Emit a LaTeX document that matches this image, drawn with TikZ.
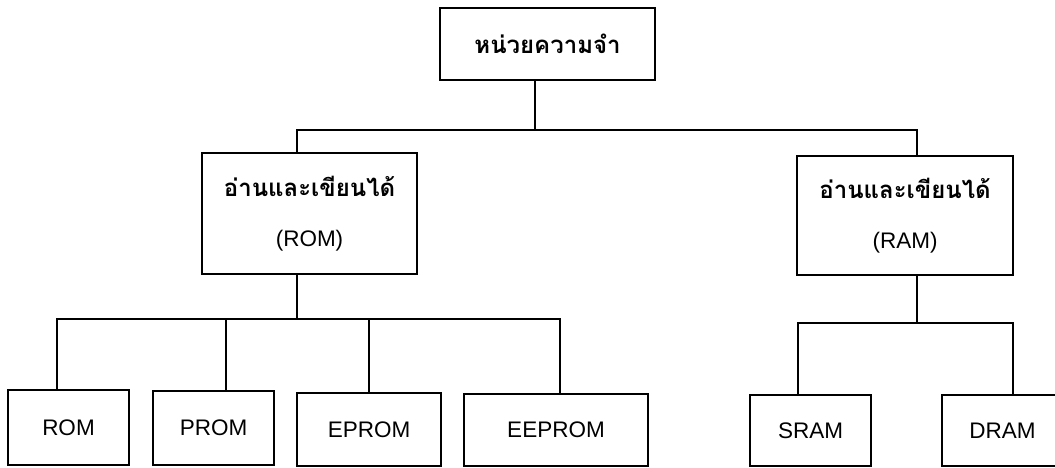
\documentclass[tikz,border=0pt]{standalone}
\usepackage{fontspec}
\setmainfont{Liberation Sans}
\newfontfamily\thaifont[Script=Thai]{Loma}
\begin{document}
\begin{tikzpicture}[x=1pt,y=-1pt,
  box/.style={draw, line width=2.2pt, inner sep=0pt, align=center,
              font=\fontsize{22.5}{50}\selectfont},
  thaitext/.style={},
  wire/.style={line width=2.2pt}]
\useasboundingbox (0,0) rectangle (1055,468);
% nodes
\node[box, minimum width=215pt, minimum height=72pt] (top) at (547.5,44)
  {\thaifont\bfseries\fontsize{24}{50}\selectfont หน่วยความจำ};
\node[box, minimum width=215pt, minimum height=121pt] (rom) at (309.5,213.5)
  {{\thaifont\bfseries\fontsize{24}{50}\selectfont อ่านและเขียนได้}\\(ROM)};
\node[box, minimum width=216pt, minimum height=119pt] (ram) at (905,215.5)
  {{\thaifont\bfseries\fontsize{24}{50}\selectfont อ่านและเขียนได้}\\(RAM)};
\node[box, minimum width=121pt, minimum height=75pt] (b1) at (68.5,427.5) {ROM};
\node[box, minimum width=121pt, minimum height=74pt] (b2) at (213.5,428) {PROM};
\node[box, minimum width=144pt, minimum height=73pt] (b3) at (369,429.5) {EPROM};
\node[box, minimum width=184pt, minimum height=72pt] (b4) at (556,430) {EEPROM};
\node[box, minimum width=121pt, minimum height=71pt] (b5) at (810.5,430.5) {SRAM};
\node[box, minimum width=121pt, minimum height=71pt] (b6) at (1002.5,430.5) {DRAM};
% junctions
\coordinate (j0) at (535,130);
\coordinate (jl) at (297,130);
\coordinate (jr) at (917,130);
\coordinate (c0) at (297,319);
\coordinate (c1) at (57,319);
\coordinate (c2) at (226,319);
\coordinate (c3) at (369,319);
\coordinate (c4) at (560,319);
\coordinate (d0) at (917,323);
\coordinate (d1) at (798,323);
\coordinate (d2) at (1013,323);
% connectors
\draw[wire] (top.south -| j0) -- (j0);
\draw[wire] (rom.north -| jl) -- (jl) -- (jr) -- (ram.north -| jr);
\draw[wire] (rom.south -| c0) -- (c0);
\draw[wire] (b1.north -| c1) -- (c1) -- (c4) -- (b4.north -| c4);
\draw[wire] (c2) -- (b2.north -| c2);
\draw[wire] (c3) -- (b3.north -| c3);
\draw[wire] (ram.south -| d0) -- (d0);
\draw[wire] (b5.north -| d1) -- (d1) -- (d2) -- (b6.north -| d2);
\end{tikzpicture}
\end{document}
